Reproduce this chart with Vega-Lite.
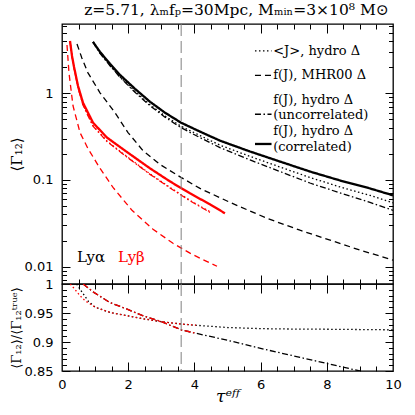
{
  "$schema": "https://vega.github.io/schema/vega-lite/v6.json",
  "background": "white",
  "padding": {"left": 8, "top": 2, "right": 22, "bottom": 5},
  "spacing": 0,
  "bounds": "flush",
  "config": {
    "view": {"stroke": "black", "strokeWidth": 1.3},
    "axis": {"domain": false, "grid": false, "tickColor": "black", "tickWidth": 1, "labelColor": "black", "labelFont": "DejaVu Sans", "labelFontSize": 13, "titleColor": "black", "titleFontWeight": "normal", "labelOverlap": false, "labelFlush": false}
  },
  "datasets": {
    "top": [
      {"line": "Lyα", "model": "corr", "x": 0.937, "y": 3.91},
      {"line": "Lyα", "model": "corr", "x": 1.148, "y": 3.0},
      {"line": "Lyα", "model": "corr", "x": 1.45, "y": 2.19},
      {"line": "Lyα", "model": "corr", "x": 1.752, "y": 1.63},
      {"line": "Lyα", "model": "corr", "x": 2.205, "y": 1.126},
      {"line": "Lyα", "model": "corr", "x": 2.659, "y": 0.798},
      {"line": "Lyα", "model": "corr", "x": 3.112, "y": 0.597},
      {"line": "Lyα", "model": "corr", "x": 3.595, "y": 0.458},
      {"line": "Lyα", "model": "corr", "x": 4.169, "y": 0.361},
      {"line": "Lyα", "model": "corr", "x": 4.773, "y": 0.284},
      {"line": "Lyα", "model": "corr", "x": 5.68, "y": 0.213},
      {"line": "Lyα", "model": "corr", "x": 6.586, "y": 0.163},
      {"line": "Lyα", "model": "corr", "x": 7.492, "y": 0.125},
      {"line": "Lyα", "model": "corr", "x": 8.399, "y": 0.0986},
      {"line": "Lyα", "model": "corr", "x": 9.305, "y": 0.0798},
      {"line": "Lyα", "model": "corr", "x": 10.0, "y": 0.0664},
      {"line": "Lyα", "model": "mean", "x": 0.937, "y": 3.91},
      {"line": "Lyα", "model": "mean", "x": 1.148, "y": 2.92},
      {"line": "Lyα", "model": "mean", "x": 1.45, "y": 2.1},
      {"line": "Lyα", "model": "mean", "x": 1.752, "y": 1.55},
      {"line": "Lyα", "model": "mean", "x": 2.205, "y": 1.054},
      {"line": "Lyα", "model": "mean", "x": 2.659, "y": 0.737},
      {"line": "Lyα", "model": "mean", "x": 3.112, "y": 0.547},
      {"line": "Lyα", "model": "mean", "x": 3.595, "y": 0.417},
      {"line": "Lyα", "model": "mean", "x": 4.169, "y": 0.325},
      {"line": "Lyα", "model": "mean", "x": 4.773, "y": 0.252},
      {"line": "Lyα", "model": "mean", "x": 5.68, "y": 0.187},
      {"line": "Lyα", "model": "mean", "x": 6.586, "y": 0.141},
      {"line": "Lyα", "model": "mean", "x": 7.492, "y": 0.1067},
      {"line": "Lyα", "model": "mean", "x": 8.399, "y": 0.083},
      {"line": "Lyα", "model": "mean", "x": 9.305, "y": 0.0663},
      {"line": "Lyα", "model": "mean", "x": 10.0, "y": 0.0545},
      {"line": "Lyα", "model": "uncorr", "x": 0.937, "y": 3.91},
      {"line": "Lyα", "model": "uncorr", "x": 1.148, "y": 2.88},
      {"line": "Lyα", "model": "uncorr", "x": 1.45, "y": 2.08},
      {"line": "Lyα", "model": "uncorr", "x": 1.752, "y": 1.53},
      {"line": "Lyα", "model": "uncorr", "x": 2.205, "y": 1.026},
      {"line": "Lyα", "model": "uncorr", "x": 2.659, "y": 0.718},
      {"line": "Lyα", "model": "uncorr", "x": 3.112, "y": 0.53},
      {"line": "Lyα", "model": "uncorr", "x": 3.595, "y": 0.401},
      {"line": "Lyα", "model": "uncorr", "x": 4.169, "y": 0.308},
      {"line": "Lyα", "model": "uncorr", "x": 4.773, "y": 0.236},
      {"line": "Lyα", "model": "uncorr", "x": 5.68, "y": 0.17},
      {"line": "Lyα", "model": "uncorr", "x": 6.586, "y": 0.125},
      {"line": "Lyα", "model": "uncorr", "x": 7.492, "y": 0.0922},
      {"line": "Lyα", "model": "uncorr", "x": 8.399, "y": 0.0708},
      {"line": "Lyα", "model": "uncorr", "x": 9.305, "y": 0.0551},
      {"line": "Lyα", "model": "uncorr", "x": 10.0, "y": 0.0446},
      {"line": "Lyα", "model": "mhr", "x": 0.453, "y": 3.71},
      {"line": "Lyα", "model": "mhr", "x": 0.6, "y": 2.55},
      {"line": "Lyα", "model": "mhr", "x": 0.785, "y": 1.72},
      {"line": "Lyα", "model": "mhr", "x": 1.148, "y": 1.013},
      {"line": "Lyα", "model": "mhr", "x": 1.601, "y": 0.597},
      {"line": "Lyα", "model": "mhr", "x": 1.994, "y": 0.352},
      {"line": "Lyα", "model": "mhr", "x": 2.447, "y": 0.218},
      {"line": "Lyα", "model": "mhr", "x": 2.961, "y": 0.151},
      {"line": "Lyα", "model": "mhr", "x": 3.595, "y": 0.107},
      {"line": "Lyα", "model": "mhr", "x": 4.169, "y": 0.0798},
      {"line": "Lyα", "model": "mhr", "x": 5.076, "y": 0.0551},
      {"line": "Lyα", "model": "mhr", "x": 6.193, "y": 0.0361},
      {"line": "Lyα", "model": "mhr", "x": 7.19, "y": 0.0263},
      {"line": "Lyα", "model": "mhr", "x": 8.187, "y": 0.0197},
      {"line": "Lyα", "model": "mhr", "x": 9.003, "y": 0.0155},
      {"line": "Lyα", "model": "mhr", "x": 10.0, "y": 0.0119},
      {"line": "Lyβ", "model": "corr", "x": 0.242, "y": 4.01},
      {"line": "Lyβ", "model": "corr", "x": 0.302, "y": 2.7},
      {"line": "Lyβ", "model": "corr", "x": 0.363, "y": 2.02},
      {"line": "Lyβ", "model": "corr", "x": 0.483, "y": 1.22},
      {"line": "Lyβ", "model": "corr", "x": 0.634, "y": 0.778},
      {"line": "Lyβ", "model": "corr", "x": 0.937, "y": 0.458},
      {"line": "Lyβ", "model": "corr", "x": 1.36, "y": 0.308},
      {"line": "Lyβ", "model": "corr", "x": 1.903, "y": 0.218},
      {"line": "Lyβ", "model": "corr", "x": 2.659, "y": 0.136},
      {"line": "Lyβ", "model": "corr", "x": 3.263, "y": 0.0961},
      {"line": "Lyβ", "model": "corr", "x": 3.867, "y": 0.07},
      {"line": "Lyβ", "model": "corr", "x": 4.471, "y": 0.0523},
      {"line": "Lyβ", "model": "corr", "x": 4.924, "y": 0.0412},
      {"line": "Lyβ", "model": "mean", "x": 0.242, "y": 4.01},
      {"line": "Lyβ", "model": "mean", "x": 0.302, "y": 2.66},
      {"line": "Lyβ", "model": "mean", "x": 0.363, "y": 1.97},
      {"line": "Lyβ", "model": "mean", "x": 0.483, "y": 1.17},
      {"line": "Lyβ", "model": "mean", "x": 0.634, "y": 0.738},
      {"line": "Lyβ", "model": "mean", "x": 0.937, "y": 0.423},
      {"line": "Lyβ", "model": "mean", "x": 1.36, "y": 0.281},
      {"line": "Lyβ", "model": "mean", "x": 1.903, "y": 0.1935},
      {"line": "Lyβ", "model": "mean", "x": 2.659, "y": 0.1176},
      {"line": "Lyβ", "model": "mean", "x": 3.263, "y": 0.082},
      {"line": "Lyβ", "model": "mean", "x": 3.867, "y": 0.0582},
      {"line": "Lyβ", "model": "mean", "x": 4.471, "y": 0.0429},
      {"line": "Lyβ", "model": "uncorr", "x": 0.242, "y": 4.01},
      {"line": "Lyβ", "model": "uncorr", "x": 0.302, "y": 2.66},
      {"line": "Lyβ", "model": "uncorr", "x": 0.363, "y": 1.97},
      {"line": "Lyβ", "model": "uncorr", "x": 0.483, "y": 1.16},
      {"line": "Lyβ", "model": "uncorr", "x": 0.634, "y": 0.73},
      {"line": "Lyβ", "model": "uncorr", "x": 0.937, "y": 0.4175},
      {"line": "Lyβ", "model": "uncorr", "x": 1.36, "y": 0.277},
      {"line": "Lyβ", "model": "uncorr", "x": 1.903, "y": 0.191},
      {"line": "Lyβ", "model": "uncorr", "x": 2.659, "y": 0.116},
      {"line": "Lyβ", "model": "uncorr", "x": 3.263, "y": 0.0809},
      {"line": "Lyβ", "model": "uncorr", "x": 3.867, "y": 0.0574},
      {"line": "Lyβ", "model": "uncorr", "x": 4.471, "y": 0.0423},
      {"line": "Lyβ", "model": "mhr", "x": 0.151, "y": 3.61},
      {"line": "Lyβ", "model": "mhr", "x": 0.211, "y": 1.72},
      {"line": "Lyβ", "model": "mhr", "x": 0.332, "y": 0.718},
      {"line": "Lyβ", "model": "mhr", "x": 0.544, "y": 0.352},
      {"line": "Lyβ", "model": "mhr", "x": 0.785, "y": 0.23},
      {"line": "Lyβ", "model": "mhr", "x": 1.148, "y": 0.136},
      {"line": "Lyβ", "model": "mhr", "x": 1.541, "y": 0.082},
      {"line": "Lyβ", "model": "mhr", "x": 2.115, "y": 0.0446},
      {"line": "Lyβ", "model": "mhr", "x": 2.749, "y": 0.027},
      {"line": "Lyβ", "model": "mhr", "x": 3.353, "y": 0.0186},
      {"line": "Lyβ", "model": "mhr", "x": 3.867, "y": 0.0143},
      {"line": "Lyβ", "model": "mhr", "x": 4.169, "y": 0.0125},
      {"line": "Lyβ", "model": "mhr", "x": 4.683, "y": 0.0101}
    ],
    "bottom": [
      {"line": "Lyα", "model": "mean", "x": 0.44, "r": 1.0},
      {"line": "Lyα", "model": "mean", "x": 0.64, "r": 0.983},
      {"line": "Lyα", "model": "mean", "x": 0.8, "r": 0.97},
      {"line": "Lyα", "model": "mean", "x": 1.0, "r": 0.96},
      {"line": "Lyα", "model": "mean", "x": 1.45, "r": 0.951},
      {"line": "Lyα", "model": "mean", "x": 2.0, "r": 0.945},
      {"line": "Lyα", "model": "mean", "x": 2.46, "r": 0.94},
      {"line": "Lyα", "model": "mean", "x": 3.0, "r": 0.935},
      {"line": "Lyα", "model": "mean", "x": 3.6, "r": 0.931},
      {"line": "Lyα", "model": "mean", "x": 4.0, "r": 0.929},
      {"line": "Lyα", "model": "mean", "x": 5.0, "r": 0.925},
      {"line": "Lyα", "model": "mean", "x": 6.0, "r": 0.923},
      {"line": "Lyα", "model": "mean", "x": 7.0, "r": 0.9223},
      {"line": "Lyα", "model": "mean", "x": 8.0, "r": 0.922},
      {"line": "Lyα", "model": "mean", "x": 9.0, "r": 0.9215},
      {"line": "Lyα", "model": "mean", "x": 10.0, "r": 0.921},
      {"line": "Lyα", "model": "uncorr", "x": 0.64, "r": 1.0},
      {"line": "Lyα", "model": "uncorr", "x": 0.95, "r": 0.986},
      {"line": "Lyα", "model": "uncorr", "x": 1.45, "r": 0.968},
      {"line": "Lyα", "model": "uncorr", "x": 1.95, "r": 0.957},
      {"line": "Lyα", "model": "uncorr", "x": 2.46, "r": 0.945},
      {"line": "Lyα", "model": "uncorr", "x": 2.96, "r": 0.936},
      {"line": "Lyα", "model": "uncorr", "x": 3.6, "r": 0.921},
      {"line": "Lyα", "model": "uncorr", "x": 4.05, "r": 0.915},
      {"line": "Lyα", "model": "uncorr", "x": 5.0, "r": 0.903},
      {"line": "Lyα", "model": "uncorr", "x": 6.0, "r": 0.889},
      {"line": "Lyα", "model": "uncorr", "x": 7.0, "r": 0.876},
      {"line": "Lyα", "model": "uncorr", "x": 8.0, "r": 0.863},
      {"line": "Lyα", "model": "uncorr", "x": 9.0, "r": 0.85},
      {"line": "Lyα", "model": "uncorr", "x": 10.0, "r": 0.837},
      {"line": "Lyβ", "model": "mean", "x": 0.25, "r": 1.0},
      {"line": "Lyβ", "model": "mean", "x": 0.4, "r": 0.99},
      {"line": "Lyβ", "model": "mean", "x": 0.54, "r": 0.98},
      {"line": "Lyβ", "model": "mean", "x": 0.7, "r": 0.971},
      {"line": "Lyβ", "model": "mean", "x": 0.9, "r": 0.964},
      {"line": "Lyβ", "model": "mean", "x": 1.0, "r": 0.96},
      {"line": "Lyβ", "model": "mean", "x": 1.45, "r": 0.951},
      {"line": "Lyβ", "model": "mean", "x": 2.0, "r": 0.945},
      {"line": "Lyβ", "model": "mean", "x": 2.46, "r": 0.94},
      {"line": "Lyβ", "model": "mean", "x": 3.0, "r": 0.935},
      {"line": "Lyβ", "model": "mean", "x": 3.6, "r": 0.931},
      {"line": "Lyβ", "model": "mean", "x": 4.05, "r": 0.929},
      {"line": "Lyβ", "model": "uncorr", "x": 0.64, "r": 1.0},
      {"line": "Lyβ", "model": "uncorr", "x": 0.95, "r": 0.986},
      {"line": "Lyβ", "model": "uncorr", "x": 1.45, "r": 0.968},
      {"line": "Lyβ", "model": "uncorr", "x": 1.95, "r": 0.957},
      {"line": "Lyβ", "model": "uncorr", "x": 2.46, "r": 0.945},
      {"line": "Lyβ", "model": "uncorr", "x": 2.96, "r": 0.936},
      {"line": "Lyβ", "model": "uncorr", "x": 3.6, "r": 0.921},
      {"line": "Lyβ", "model": "uncorr", "x": 4.05, "r": 0.915}
    ]
  },
  "vconcat": [
    {
      "width": 331,
      "height": 260,
      "title": {"text": "z=5.71, λₘfₚ=30Mpc, Mₘᵢₙ=3×10⁸ M⊙", "font": "DejaVu Serif", "fontSize": 15.5, "fontWeight": "normal", "color": "black", "anchor": "middle", "frame": "group", "offset": 5, "dx": 9},
      "resolve": {"axis": {"x": "independent", "y": "independent"}},
      "layer": [
        {
          "data": {"name": "top"},
          "mark": {"type": "line", "clip": true},
          "encoding": {
            "x": {"field": "x", "type": "quantitative", "scale": {"domain": [0, 10], "nice": false, "zero": false},
                  "axis": {"orient": "bottom", "values": [2, 4, 6, 8], "labels": false, "tickSize": -9, "title": null}},
            "y": {"field": "y", "type": "quantitative", "scale": {"type": "log", "domain": [0.0063, 6.3], "nice": false},
                  "axis": {"orient": "left", "values": [0.01, 0.1, 1], "labels": false, "tickSize": -8, "title": null}},
            "color": {"field": "line", "type": "nominal", "scale": {"domain": ["Lyα", "Lyβ"], "range": ["black", "#ff0000"]}, "legend": null},
            "strokeDash": {"field": "model", "type": "nominal",
              "scale": {"domain": ["mean", "mhr", "uncorr", "corr"], "range": [[1.5, 2.5], [6, 4], [6, 2.5, 1.5, 2.5], [1, 0]]}, "legend": null},
            "strokeWidth": {"field": "model", "type": "nominal", "scale": {"type": "ordinal", "domain": ["mean", "mhr", "uncorr", "corr"], "range": [1.3, 1.3, 1.3, 2.3]}, "legend": null}
          }
        },
        {
          "data": {"values": [{}]},
          "mark": {"type": "rule", "color": "#808080", "strokeDash": [12, 5], "strokeWidth": 1},
          "encoding": {
            "x": {"datum": 3.6, "type": "quantitative", "scale": {"domain": [0, 10], "nice": false, "zero": false},
                  "axis": {"orient": "top", "values": [2, 4, 6, 8], "labels": false, "tickSize": -9, "title": null}}
          }
        },
        {
          "data": {"values": [{}]},
          "mark": {"type": "text", "text": "Lyα", "font": "DejaVu Serif", "fontSize": 15, "align": "left", "baseline": "middle", "color": "black"},
          "encoding": {
            "x": {"datum": 0.45, "type": "quantitative", "scale": {"domain": [0, 10], "nice": false, "zero": false},
                  "axis": {"orient": "bottom", "values": [0.5, 1, 1.5, 2, 2.5, 3, 3.5, 4, 4.5, 5, 5.5, 6, 6.5, 7, 7.5, 8, 8.5, 9, 9.5], "labels": false, "tickSize": -5, "title": null}},
            "y": {"datum": 0.0129, "type": "quantitative", "scale": {"type": "log", "domain": [0.0063, 6.3], "nice": false},
                  "axis": {"orient": "left", "values": [0.007, 0.008, 0.009, 0.02, 0.03, 0.04, 0.05, 0.06, 0.07, 0.08, 0.09, 0.2, 0.3, 0.4, 0.5, 0.6, 0.7, 0.8, 0.9, 2, 3, 4, 5, 6], "labels": false, "tickSize": -4.5, "title": null}}
          }
        },
        {
          "data": {"values": [{}]},
          "mark": {"type": "text", "text": "Lyβ", "font": "DejaVu Serif", "fontSize": 15, "align": "left", "baseline": "middle", "color": "#ff0000"},
          "encoding": {
            "x": {"datum": 1.69, "type": "quantitative", "scale": {"domain": [0, 10], "nice": false, "zero": false},
                  "axis": {"orient": "top", "values": [0.5, 1, 1.5, 2, 2.5, 3, 3.5, 4, 4.5, 5, 5.5, 6, 6.5, 7, 7.5, 8, 8.5, 9, 9.5], "labels": false, "tickSize": -5, "title": null}},
            "y": {"datum": 0.0129, "type": "quantitative", "scale": {"type": "log", "domain": [0.0063, 6.3], "nice": false},
                  "axis": {"orient": "right", "values": [0.01, 0.1, 1], "labels": false, "tickSize": -8, "title": null}}
          }
        },
        {
          "data": {"values": [{}]},
          "mark": {"type": "point", "opacity": 0},
          "encoding": {
            "x": {"datum": 5, "type": "quantitative", "scale": {"domain": [0, 10], "nice": false, "zero": false}, "axis": null},
            "y": {"datum": 0.1, "type": "quantitative", "scale": {"type": "log", "domain": [0.0063, 6.3], "nice": false},
                  "axis": {"orient": "right", "values": [0.007, 0.008, 0.009, 0.02, 0.03, 0.04, 0.05, 0.06, 0.07, 0.08, 0.09, 0.2, 0.3, 0.4, 0.5, 0.6, 0.7, 0.8, 0.9, 2, 3, 4, 5, 6], "labels": false, "tickSize": -4.5, "title": null}}
          }
        },
        {
          "data": {"values": [{}]},
          "mark": {"type": "point", "opacity": 0},
          "encoding": {
            "x": {"datum": 5, "type": "quantitative", "scale": {"domain": [0, 10], "nice": false, "zero": false}, "axis": null},
            "y": {"datum": 0.1, "type": "quantitative", "scale": {"type": "log", "domain": [0.0063, 6.3], "nice": false},
                  "axis": {"orient": "left", "values": [0.01, 0.1, 1], "format": "~g", "ticks": false, "labelPadding": 9,
                           "title": "⟨Γ₁₂⟩", "titleFont": "DejaVu Serif", "titleFontSize": 15, "titleX": -46, "titleBaseline": "middle", "titleAngle": -90}}
          }
        },
        {
          "data": {"values": [{}]},
          "mark": {"type": "rule", "color": "black", "strokeDash": [1.5, 2.5], "strokeWidth": 1.3},
          "encoding": {
            "x": {"datum": 5.83, "type": "quantitative", "scale": {"domain": [0, 10], "nice": false, "zero": false}, "axis": null},
            "x2": {"datum": 6.33},
            "y": {"datum": 3.08, "type": "quantitative", "scale": {"type": "log", "domain": [0.0063, 6.3], "nice": false}, "axis": null}
          }
        },
        {
          "data": {"values": [{}]},
          "mark": {"type": "rule", "color": "black", "strokeDash": [6, 4], "strokeWidth": 1.3},
          "encoding": {
            "x": {"datum": 5.83, "type": "quantitative", "scale": {"domain": [0, 10], "nice": false, "zero": false}, "axis": null},
            "x2": {"datum": 6.33},
            "y": {"datum": 1.613, "type": "quantitative", "scale": {"type": "log", "domain": [0.0063, 6.3], "nice": false}, "axis": null}
          }
        },
        {
          "data": {"values": [{}]},
          "mark": {"type": "rule", "color": "black", "strokeDash": [6, 2.5, 1.5, 2.5], "strokeWidth": 1.3},
          "encoding": {
            "x": {"datum": 5.83, "type": "quantitative", "scale": {"domain": [0, 10], "nice": false, "zero": false}, "axis": null},
            "x2": {"datum": 6.33},
            "y": {"datum": 0.573, "type": "quantitative", "scale": {"type": "log", "domain": [0.0063, 6.3], "nice": false}, "axis": null}
          }
        },
        {
          "data": {"values": [{}]},
          "mark": {"type": "rule", "color": "black", "strokeWidth": 2.3},
          "encoding": {
            "x": {"datum": 5.83, "type": "quantitative", "scale": {"domain": [0, 10], "nice": false, "zero": false}, "axis": null},
            "x2": {"datum": 6.33},
            "y": {"datum": 0.26, "type": "quantitative", "scale": {"type": "log", "domain": [0.0063, 6.3], "nice": false}, "axis": null}
          }
        },
        {
          "data": {"values": [{}]},
          "mark": {"type": "text", "text": "<J>, hydro Δ", "font": "DejaVu Serif", "fontSize": 13, "align": "left", "baseline": "middle", "color": "black"},
          "encoding": {
            "x": {"datum": 6.38, "type": "quantitative", "scale": {"domain": [0, 10], "nice": false, "zero": false}, "axis": null},
            "y": {"datum": 3.08, "type": "quantitative", "scale": {"type": "log", "domain": [0.0063, 6.3], "nice": false}, "axis": null}
          }
        },
        {
          "data": {"values": [{}]},
          "mark": {"type": "text", "text": "f(J), MHR00 Δ", "font": "DejaVu Serif", "fontSize": 13, "align": "left", "baseline": "middle", "color": "black"},
          "encoding": {
            "x": {"datum": 6.38, "type": "quantitative", "scale": {"domain": [0, 10], "nice": false, "zero": false}, "axis": null},
            "y": {"datum": 1.613, "type": "quantitative", "scale": {"type": "log", "domain": [0.0063, 6.3], "nice": false}, "axis": null}
          }
        },
        {
          "data": {"values": [{}]},
          "mark": {"type": "text", "text": ["f(J), hydro Δ", "(uncorrelated)"], "lineHeight": 15.2, "font": "DejaVu Serif", "fontSize": 13, "align": "left", "baseline": "middle", "color": "black"},
          "encoding": {
            "x": {"datum": 6.38, "type": "quantitative", "scale": {"domain": [0, 10], "nice": false, "zero": false}, "axis": null},
            "y": {"datum": 0.837, "type": "quantitative", "scale": {"type": "log", "domain": [0.0063, 6.3], "nice": false}, "axis": null}
          }
        },
        {
          "data": {"values": [{}]},
          "mark": {"type": "text", "text": ["f(J), hydro Δ", "(correlated)"], "lineHeight": 15.2, "font": "DejaVu Serif", "fontSize": 13, "align": "left", "baseline": "middle", "color": "black"},
          "encoding": {
            "x": {"datum": 6.38, "type": "quantitative", "scale": {"domain": [0, 10], "nice": false, "zero": false}, "axis": null},
            "y": {"datum": 0.3624, "type": "quantitative", "scale": {"type": "log", "domain": [0.0063, 6.3], "nice": false}, "axis": null}
          }
        }
      ]
    },
    {
      "width": 331,
      "height": 87,
      "resolve": {"axis": {"x": "independent", "y": "independent"}},
      "layer": [
        {
          "data": {"name": "bottom"},
          "mark": {"type": "line", "clip": true, "strokeWidth": 1.3},
          "encoding": {
            "x": {"field": "x", "type": "quantitative", "scale": {"domain": [0, 10], "nice": false, "zero": false},
                  "axis": {"orient": "bottom", "values": [2, 4, 6, 8], "labels": false, "tickSize": -9, "title": null}},
            "y": {"field": "r", "type": "quantitative", "scale": {"domain": [0.85, 1], "nice": false, "zero": false},
                  "axis": {"orient": "left", "values": [0.85, 0.9, 0.95], "labels": false, "tickSize": -8, "title": null}},
            "color": {"field": "line", "type": "nominal", "scale": {"domain": ["Lyα", "Lyβ"], "range": ["black", "#ff0000"]}, "legend": null},
            "strokeDash": {"field": "model", "type": "nominal",
              "scale": {"domain": ["mean", "mhr", "uncorr", "corr"], "range": [[1.5, 2.5], [6, 4], [6, 2.5, 1.5, 2.5], [1, 0]]}, "legend": null}
          }
        },
        {
          "data": {"values": [{}]},
          "mark": {"type": "rule", "color": "#808080", "strokeDash": [12, 5], "strokeWidth": 1},
          "encoding": {
            "x": {"datum": 3.6, "type": "quantitative", "scale": {"domain": [0, 10], "nice": false, "zero": false},
                  "axis": {"orient": "top", "values": [2, 4, 6, 8], "labels": false, "tickSize": -9, "title": null}}
          }
        },
        {
          "data": {"values": [{}]},
          "mark": {"type": "point", "opacity": 0},
          "encoding": {
            "x": {"datum": 5, "type": "quantitative", "scale": {"domain": [0, 10], "nice": false, "zero": false},
                  "axis": {"orient": "bottom", "values": [0.5, 1, 1.5, 2, 2.5, 3, 3.5, 4, 4.5, 5, 5.5, 6, 6.5, 7, 7.5, 8, 8.5, 9, 9.5], "labels": false, "tickSize": -5, "title": null}},
            "y": {"datum": 0.9, "type": "quantitative", "scale": {"domain": [0.85, 1], "nice": false, "zero": false},
                  "axis": {"orient": "left", "values": [0.86, 0.87, 0.88, 0.89, 0.91, 0.92, 0.93, 0.94, 0.96, 0.97, 0.98, 0.99], "labels": false, "tickSize": -4.5, "title": null}}
          }
        },
        {
          "data": {"values": [{}]},
          "mark": {"type": "point", "opacity": 0},
          "encoding": {
            "x": {"datum": 5, "type": "quantitative", "scale": {"domain": [0, 10], "nice": false, "zero": false},
                  "axis": {"orient": "top", "values": [0.5, 1, 1.5, 2, 2.5, 3, 3.5, 4, 4.5, 5, 5.5, 6, 6.5, 7, 7.5, 8, 8.5, 9, 9.5], "labels": false, "tickSize": -5, "title": null}},
            "y": {"datum": 0.9, "type": "quantitative", "scale": {"domain": [0.85, 1], "nice": false, "zero": false},
                  "axis": {"orient": "right", "values": [0.85, 0.9, 0.95], "labels": false, "tickSize": -8, "title": null}}
          }
        },
        {
          "data": {"values": [{}]},
          "mark": {"type": "point", "opacity": 0},
          "encoding": {
            "x": {"datum": 5, "type": "quantitative", "scale": {"domain": [0, 10], "nice": false, "zero": false},
                  "axis": {"orient": "bottom", "values": [0, 2, 4, 6, 8, 10], "format": "~r", "ticks": false, "labelPadding": 7,
                           "title": "τᵉᶠᶠ", "titleFont": "DejaVu Serif", "titleFontStyle": "italic", "titleFontSize": 17, "titlePadding": -3}},
            "y": {"datum": 0.9, "type": "quantitative", "scale": {"domain": [0.85, 1], "nice": false, "zero": false},
                  "axis": {"orient": "right", "values": [0.86, 0.87, 0.88, 0.89, 0.91, 0.92, 0.93, 0.94, 0.96, 0.97, 0.98, 0.99], "labels": false, "tickSize": -4.5, "title": null}}
          }
        },
        {
          "data": {"values": [{}]},
          "mark": {"type": "point", "opacity": 0},
          "encoding": {
            "x": {"datum": 5, "type": "quantitative", "scale": {"domain": [0, 10], "nice": false, "zero": false}, "axis": null},
            "y": {"datum": 0.9, "type": "quantitative", "scale": {"domain": [0.85, 1], "nice": false, "zero": false},
                  "axis": {"orient": "left", "values": [0.85, 0.9, 0.95, 1], "format": "~g", "ticks": false, "labelPadding": 9,
                           "title": "⟨Γ₁₂⟩/⟨Γ₁₂ᵗʳᵘᵉ⟩", "titleFont": "DejaVu Serif", "titleFontSize": 13, "titleX": -46, "titleBaseline": "middle", "titleAngle": -90}}
          }
        }
      ]
    }
  ]
}
